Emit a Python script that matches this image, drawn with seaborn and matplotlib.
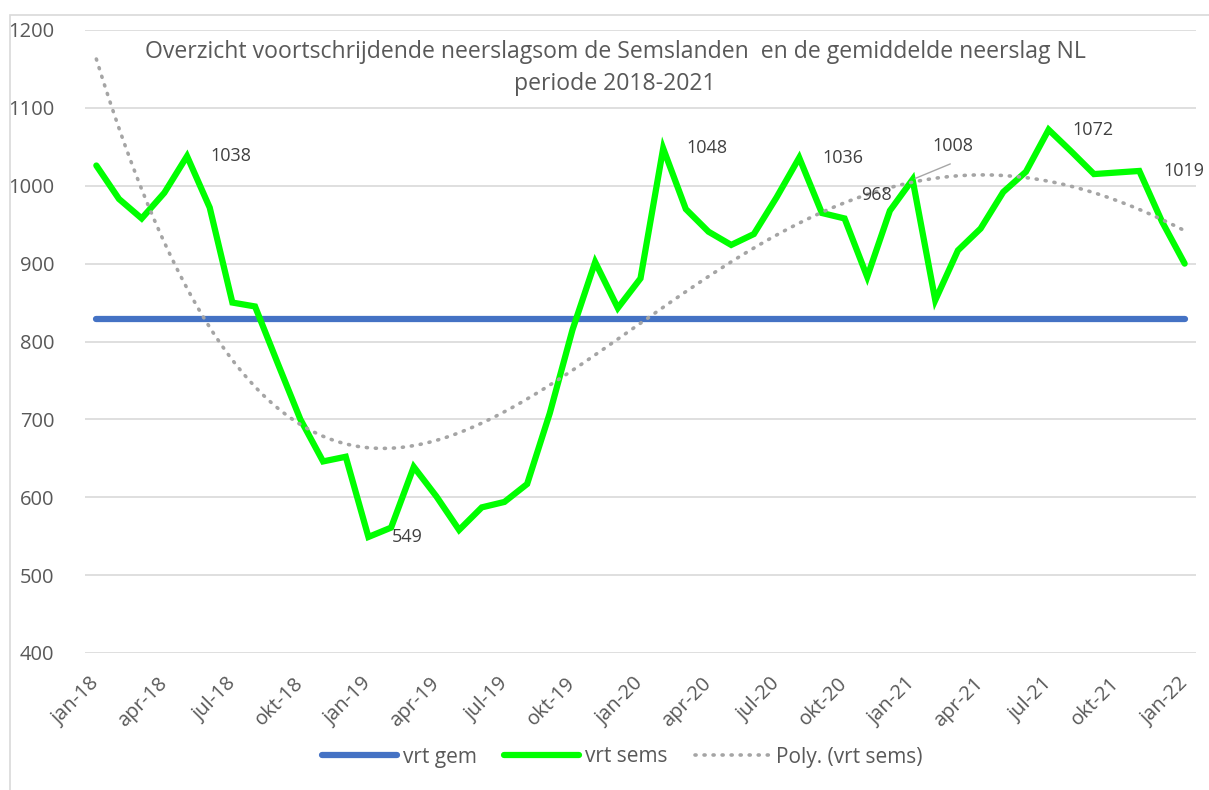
import numpy as np
import pandas as pd
import matplotlib
matplotlib.use("Agg")
import matplotlib.pyplot as plt
import seaborn as sns
from matplotlib.lines import Line2D
from matplotlib.patches import Rectangle

# monthly data jan-18 .. jan-22
month_names = ["jan", "feb", "mrt", "apr", "mei", "jun", "jul", "aug", "sep", "okt", "nov", "dec"]
years = [18, 19, 20, 21, 22]
months = [f"{m}-{y}" for y in years for m in month_names][:49]

vrt_sems = [1026, 983, 958, 991, 1038, 972, 850, 845, 772, 700, 646, 652,
            549, 561, 639, 601, 558, 587, 594, 617, 708, 815, 902, 843,
            881, 1048, 970, 941, 924, 938, 985, 1036, 965, 958, 883, 968,
            1008, 853, 917, 945, 992, 1018, 1072, 1044, 1015, 1017, 1019, 954,
            900]
gem_value = 829
vrt_gem = [gem_value] * len(vrt_sems)

label_idx = [4, 12, 25, 31, 42, 46]
tick_labels = months[::3]
y_ticks = [400, 500, 600, 700, 800, 900, 1000, 1100, 1200]

title = ("Overzicht voortschrijdende neerslagsom de Semslanden  en de gemiddelde neerslag NL\n"
         "periode 2018-2021")

df = pd.DataFrame({"idx": np.arange(len(vrt_sems)), "sems": vrt_sems, "gem": vrt_gem})

# polynomial trend (order 4) like the Excel trendline
coef = np.polyfit(df["idx"], df["sems"], 4)
xt = np.linspace(0, len(vrt_sems) - 1, 300)
trend = pd.DataFrame({"idx": xt, "val": np.polyval(coef, xt)})

sns.set_style("white")
plt.rcParams["font.family"] = ["Open Sans", "DejaVu Sans"]
text_col = "#595959"

fig = plt.figure(figsize=(12.09, 7.90), dpi=100)
ax = fig.add_axes([85 / 1209, 1 - 653 / 790, 1111 / 1209, 623 / 790])

fig.patches.append(Rectangle((10 / 1209, -0.01), 1.1, 1 - 15 / 790 + 0.01, transform=fig.transFigure,
                             fill=False, edgecolor="#D9D9D9", lw=1.2, zorder=0))

sns.lineplot(data=df, x="idx", y="gem", ax=ax, color="#4472C4", lw=4.5,
             solid_capstyle="round", label="vrt gem", zorder=3)
sns.lineplot(data=df, x="idx", y="sems", ax=ax, color="#00FF00", lw=4.5,
             solid_joinstyle="miter", solid_capstyle="round", label="vrt sems", zorder=4)
ax.plot(trend["idx"], trend["val"], color="#A5A5A5", lw=2.6,
        linestyle=(0, (0.3, 2.2)), dash_capstyle="round", zorder=5)

for i in label_idx:
    ax.annotate(str(vrt_sems[i]), (i, vrt_sems[i]), xytext=(17, 0), textcoords="offset points",
                ha="left", va="center", fontsize=13, color="#404040", zorder=6)
# moved labels
ax.annotate(str(vrt_sems[35]), (35, vrt_sems[35]), xytext=(-21, 11), textcoords="offset points",
            ha="left", va="center", fontsize=13, color="#404040", zorder=6)
ax.annotate(str(vrt_sems[36]), (36, vrt_sems[36]), xytext=(29, 24), textcoords="offset points",
            ha="center", va="center", fontsize=13, color="#404040", zorder=6)
ax.annotate("", (36, vrt_sems[36]), xytext=(29, 12), textcoords="offset points",
            arrowprops=dict(arrowstyle="-", color="#A6A6A6", lw=1.0), zorder=6)

ax.set_xlim(-0.5, len(vrt_sems) - 0.5)
ax.set_ylim(400, 1200)
ax.set_yticks(y_ticks)
ax.set_yticklabels([str(v) for v in y_ticks], fontsize=14.5, color=text_col)
ax.set_xticks(range(0, len(vrt_sems), 3))
ax.set_xticklabels(tick_labels, rotation=45, ha="right", va="center",
                   rotation_mode="anchor", fontsize=14.5, color=text_col)
ax.tick_params(axis="both", length=0)
ax.tick_params(axis="x", pad=20)
ax.tick_params(axis="y", pad=22)
ax.grid(axis="y", color="#D9D9D9", lw=1.2)
ax.set_axisbelow(True)
for s in ax.spines.values():
    s.set_visible(False)
ax.set_xlabel("")
ax.set_ylabel("")

fig.text(615 / 1209, 1 - 68 / 790, title, ha="center", va="center", fontsize=16.6,
         color=text_col, linespacing=1.4)

handles = [Line2D([], [], color="#4472C4", lw=4.5, solid_capstyle="round"),
           Line2D([], [], color="#00FF00", lw=4.5, solid_capstyle="round"),
           Line2D([], [], color="#A5A5A5", lw=2.6, linestyle=(0, (0.3, 2.2)), dash_capstyle="round")]
ax.legend(handles, ["vrt gem", "vrt sems", "Poly. (vrt sems)"], loc="center",
          bbox_to_anchor=(622 / 1209, 1 - 757 / 790), bbox_transform=fig.transFigure,
          ncol=3, frameon=False, fontsize=15, labelcolor=text_col,
          handlelength=3.6, handletextpad=0.3, columnspacing=1.3)

fig.savefig("out.png", dpi=100)
